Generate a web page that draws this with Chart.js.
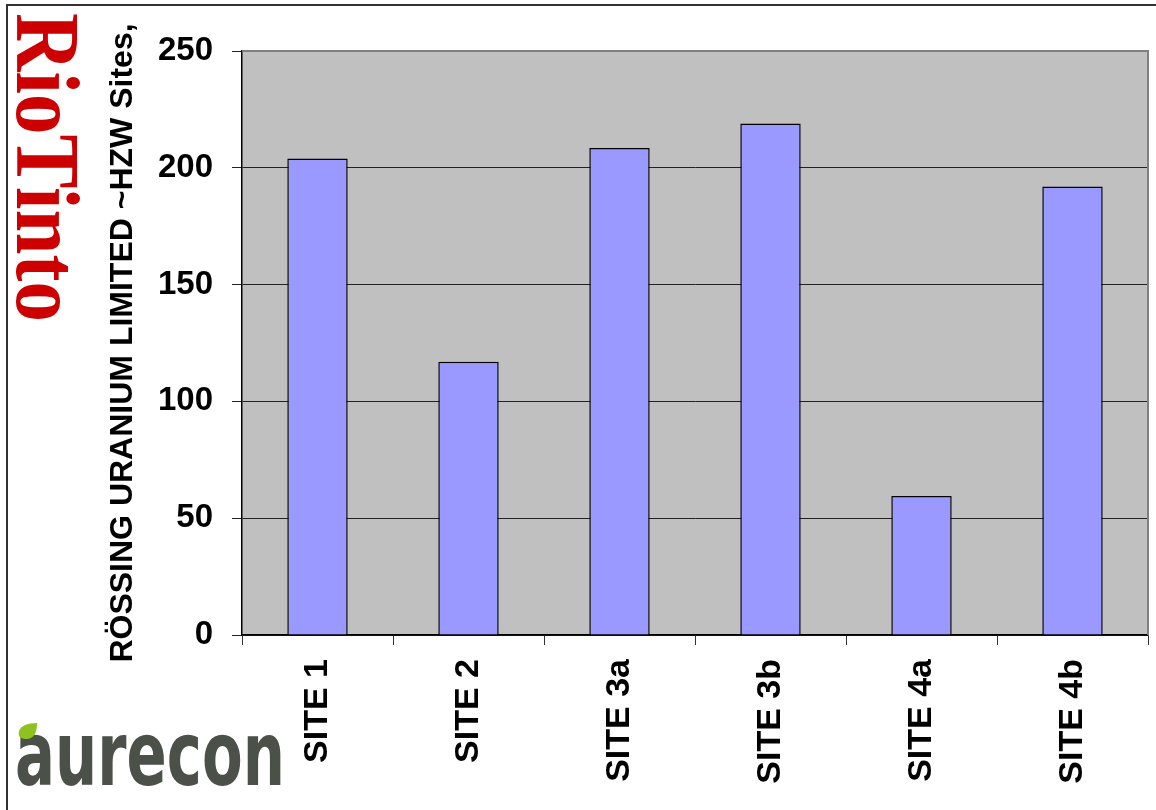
<!DOCTYPE html>
<html>
<head>
<meta charset="utf-8">
<script src="https://cdn.jsdelivr.net/npm/chart.js@4.4.0/dist/chart.umd.min.js"></script>
<style>
  html, body { margin: 0; padding: 0; background: #fff; }
  #wrap { width: 1156px; height: 810px; position: relative; }
</style>
</head>
<body>
<div id="wrap"><canvas id="grafico" width="1156" height="810"></canvas></div>
<script>
// dados do grafico
const sites = ['SITE 1', 'SITE 2', 'SITE 3a', 'SITE 3b', 'SITE 4a', 'SITE 4b'];
const valores = [204, 117, 208.5, 219, 59.5, 192];
const yTicks = [0, 50, 100, 150, 200, 250];
const tituloY = 'RÖSSING URANIUM LIMITED ~HZW Sites,';

// fundo cinza, borda do grafico, moldura e logos
const enfeites = {
  id: 'enfeites',
  beforeDraw(chart) {
    const ctx = chart.ctx;
    const a = chart.chartArea;
    ctx.save();
    ctx.fillStyle = '#fff';
    ctx.fillRect(0, 0, chart.width, chart.height);
    ctx.fillStyle = '#C0C0C0';
    ctx.fillRect(a.left, a.top, a.right - a.left, a.bottom - a.top);
    ctx.restore();
  },
  afterDraw(chart) {
    const ctx = chart.ctx;
    const a = chart.chartArea;
    ctx.save();
    // borda cinza em cima e a direita
    ctx.strokeStyle = '#808080';
    ctx.lineWidth = 2;
    ctx.beginPath();
    ctx.moveTo(a.left, a.top);
    ctx.lineTo(a.right, a.top);
    ctx.lineTo(a.right, a.bottom);
    ctx.stroke();

    // moldura externa
    ctx.strokeStyle = '#333';
    ctx.lineWidth = 2;
    ctx.beginPath();
    ctx.moveTo(7, 810);
    ctx.lineTo(7, 5);
    ctx.lineTo(1156, 5);
    ctx.stroke();

    // RioTinto
    ctx.fillStyle = '#CC0000';
    ctx.font = 'bold 90px "Liberation Serif"';
    const w = ctx.measureText('RioTinto').width;
    ctx.translate(17, 13);
    ctx.rotate(Math.PI / 2);
    ctx.scale(309 / w, 1);
    ctx.textBaseline = 'alphabetic';
    ctx.fillText('RioTinto', 0, 0);
    ctx.restore();

    // aurecon
    ctx.save();
    ctx.fillStyle = '#4B5048';
    ctx.font = 'bold 84px "DejaVu Sans"';
    const w2 = ctx.measureText('aurecon').width;
    ctx.translate(15, 785);
    ctx.scale(270 / w2, 1.05);
    ctx.textBaseline = 'alphabetic';
    ctx.fillText('aurecon', 0, 0);
    ctx.restore();

    // folha verde
    ctx.save();
    ctx.fillStyle = '#8DC21F';
    ctx.beginPath();
    ctx.moveTo(37, 723);
    ctx.quadraticCurveTo(37, 740, 25, 739);
    ctx.quadraticCurveTo(17, 738, 19, 731);
    ctx.quadraticCurveTo(22, 723, 37, 723);
    ctx.fill();
    ctx.restore();
  }
};

new Chart(document.getElementById('grafico'), {
  type: 'bar',
  data: {
    labels: sites,
    datasets: [{
      data: valores,
      backgroundColor: '#9999FF',
      borderColor: '#000',
      borderWidth: 1.5,
      borderSkipped: 'bottom',
      barPercentage: 0.4,
      categoryPercentage: 1
    }]
  },
  options: {
    responsive: false,
    animation: false,
    layout: { padding: { left: 0, top: 51, right: 8, bottom: 0 } },
    plugins: {
      legend: { display: false },
      tooltip: { enabled: false }
    },
    scales: {
      x: {
        afterFit: s => { s.height = 175; },
        grid: {
          offset: true,
          drawOnChartArea: false,
          color: '#333',
          tickLength: 10
        },
        border: { color: '#000', width: 1.5 },
        ticks: {
          minRotation: 90,
          maxRotation: 90,
          padding: 14,
          color: '#000',
          font: { family: '"Liberation Sans", Arial', size: 34, weight: 'bold' }
        }
      },
      y: {
        min: 0,
        max: 250,
        afterFit: s => { s.width = 242; },
        afterBuildTicks: s => { s.ticks = yTicks.map(v => ({ value: v })); },
        grid: { color: '#222', tickLength: 10, lineWidth: 1 },
        border: { color: '#000', width: 1.5 },
        ticks: {
          padding: 19,
          color: '#000',
          font: { family: '"Liberation Sans", Arial', size: 33, weight: 'bold' }
        },
        title: {
          display: true,
          text: tituloY,
          color: '#000',
          padding: { top: 104, bottom: 0 },
          font: { family: '"Liberation Sans", Arial', size: 32, weight: 'bold' }
        }
      }
    }
  },
  plugins: [enfeites]
});
</script>
</body>
</html>
